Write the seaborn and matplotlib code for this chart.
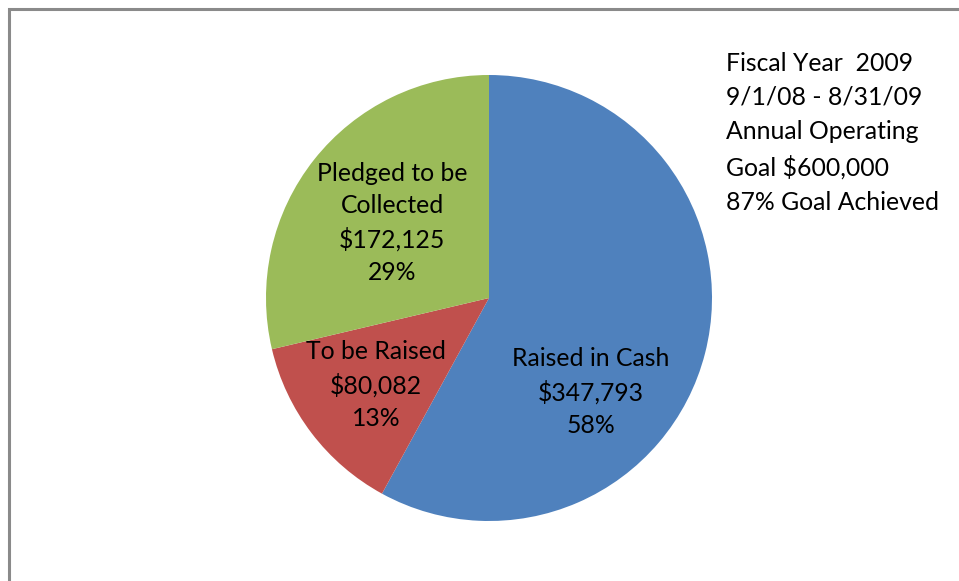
import matplotlib
matplotlib.use("Agg")
import matplotlib.pyplot as plt
import seaborn as sns

# Dados do gráfico
categorias = ["Raised in Cash", "To be Raised", "Pledged to be\nCollected"]
valores = [347793, 80082, 172125]
cores = ["#4F81BD", "#C0504D", "#9BBB59"]
nota = ["Fiscal Year  2009", "9/1/08 - 8/31/09", "Annual Operating",
        "Goal $600,000", "87% Goal Achieved"]

# Deslocamento dos rótulos em relação ao centro (pixels)
desloc_rotulos = [(102, 94), (-113, 87), (-97, -75)]


def main():
    sns.set_theme(style="white")
    plt.rcParams["font.family"] = ["Lato", "DejaVu Sans"]

    fig = plt.figure(figsize=(9.59, 5.81), dpi=100)
    ax = fig.add_axes([0, 0, 1, 1])

    centro = (489, 298)
    raio = 223

    # Pizza: começa às 12h, sentido horário (eixo y invertido)
    ax.pie(valores, colors=cores, startangle=-90, counterclock=True,
           center=centro, radius=raio, frame=True,
           wedgeprops=dict(linewidth=0))
    ax.set_xlim(0, 959)
    ax.set_ylim(581, 0)
    ax.set_aspect("auto")
    ax.axis("off")

    total = sum(valores)
    for nome, valor, (dx, dy) in zip(categorias, valores, desloc_rotulos):
        pct = round(valor / total * 100)
        ax.text(centro[0] + dx, centro[1] + dy,
                f"{nome}\n${valor:,}\n{pct}%",
                ha="center", va="center", fontsize=17.8,
                linespacing=1.5, color="black")

    # Texto à direita
    ax.text(726, 133, "\n".join(nota), ha="left", va="center",
            fontsize=17.8, linespacing=1.6, color="black")

    # Moldura (esquerda e topo)
    ax.plot([9, 9, 959], [581, 9, 9], color="#8a8a8a", linewidth=2.2,
            solid_joinstyle="miter", clip_on=False)

    fig.savefig("out.png", dpi=100)


if __name__ == "__main__":
    main()
